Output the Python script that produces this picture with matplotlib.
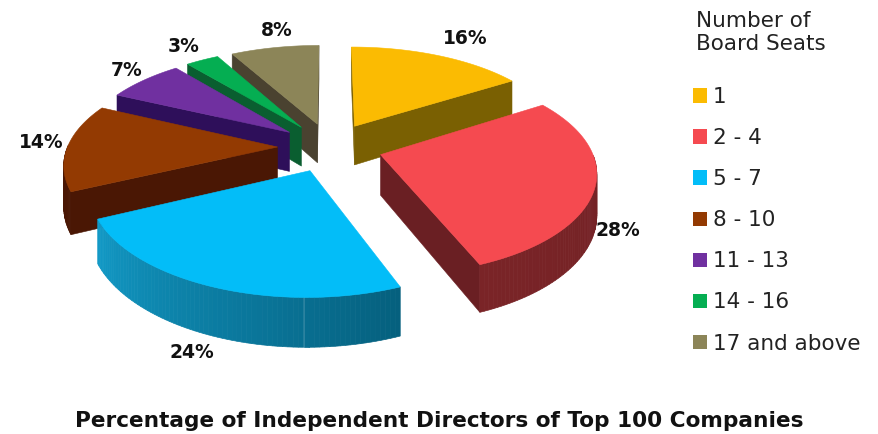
import numpy as np
import matplotlib
matplotlib.use("Agg")
import matplotlib.pyplot as plt
from matplotlib.patches import Polygon, Patch
from matplotlib.colors import to_rgb

categories = ["1", "2 - 4", "5 - 7", "8 - 10", "11 - 13", "14 - 16", "17 and above"]
values = [16, 28, 24, 14, 7, 3, 8]
top_colors = ["#FBBB02", "#F54A50", "#03BDF8", "#933A02", "#7030A0", "#05AE52", "#8C8558"]
side_start = ["#7A6002", "#6F2024", "#05607E", "#4A1704", "#2E0F5A", "#0A5E30", "#4A4230"]
side_end = ["#7A6002", "#7A2427", "#1299C6", "#4A1704", "#2E0F5A", "#0A5E30", "#4A4230"]
cut_colors = ["#7A6002", "#6A1F23", "#05607E", "#4A1704", "#2E0F5A", "#0A5E30", "#4A4230"]
label_px = [(465, 39), (618, 231), (192, 352), (41, 143), (127, 70), (184, 47), (277, 30)]

CX, CY, A, B, KX, KY, H, EX = 330, 147, 210, 98, 0.15, 0.16, 40, 0.25


def project(x, y, drop=0.0):
    sx = 1 / (1 + KX * y)
    sy = 1 / (1 + KY * y)
    return CX + A * x * sx, CY - B * y * sy + drop * sy


fig = plt.figure(figsize=(8.79, 4.34), dpi=100)
ax = fig.add_axes([0, 0, 1, 1])
ax.set_xlim(0, 879)
ax.set_ylim(434, 0)
ax.axis("off")

edges = np.concatenate([[0], np.cumsum(values)]) / np.sum(values) * 2 * np.pi
slices = []
for i, v in enumerate(values):
    t0, t1 = edges[i], edges[i + 1]
    mid = (t0 + t1) / 2
    ox, oy = EX * np.sin(mid), EX * np.cos(mid)
    th = np.linspace(t0, t1, max(8, int((t1 - t0) * 50)))
    slices.append((i, th, ox, oy, mid))


def cut_visible(apex, edge, inner):
    ex, ey = edge[0] - apex[0], edge[1] - apex[1]
    mx, my = inner[0] - apex[0], inner[1] - apex[1]
    return ex * (ex * my - ey * mx) < 0


def draw_slice(i, th, ox, oy):
    rx, ry = ox + np.sin(th), oy + np.cos(th)
    apex = project(ox, oy)
    apex_low = project(ox, oy, H)
    tm = th[len(th) // 2]
    inner = project(ox + np.sin(tm), oy + np.cos(tm))
    for t in (th[0], th[-1]):
        edge = project(ox + np.sin(t), oy + np.cos(t))
        edge_low = project(ox + np.sin(t), oy + np.cos(t), H)
        if cut_visible(apex, edge, inner):
            ax.add_patch(Polygon([apex, edge, edge_low, apex_low],
                                 closed=True, fc=cut_colors[i], ec=cut_colors[i], lw=0.4))
    start, end = np.array(to_rgb(side_start[i])), np.array(to_rgb(side_end[i]))
    for j in range(len(th) - 1):
        if np.cos(th[j]) > 0.0:
            continue
        f = j / (len(th) - 2)
        c = start * (1 - f) + end * f
        pts = [project(rx[j], ry[j]), project(rx[j + 1], ry[j + 1]),
               project(rx[j + 1], ry[j + 1], H), project(rx[j], ry[j], H)]
        ax.add_patch(Polygon(pts, closed=True, fc=c, ec=c, lw=0.5))
    tx, ty = project(np.r_[ox, rx], np.r_[oy, ry])
    ax.add_patch(Polygon(np.c_[tx, ty], closed=True, fc=top_colors[i], ec=top_colors[i], lw=0.4))


for idx in [6, 5, 4, 0, 3, 1, 2]:
    i, th, ox, oy, mid = slices[idx]
    draw_slice(i, th, ox, oy)

for v, (x, y) in zip(values, label_px):
    ax.text(x, y, f"{v}%", ha="center", va="center", fontsize=13.5, fontweight="bold",
            color="#111111", family="DejaVu Sans")

ax.text(696, 32.5, "Number of\nBoard Seats", ha="left", va="center", fontsize=15.5,
        color="#222222", family="DejaVu Sans", linespacing=1.2)
handles = [Patch(fc=c, ec="none") for c in top_colors]
leg = ax.legend(handles, categories, loc="upper left", bbox_to_anchor=(693 / 879, 1 - 87 / 434),
                frameon=False, fontsize=15.5, labelspacing=0.98, handlelength=0.65, handleheight=0.65,
                handletextpad=0.28, borderpad=0, borderaxespad=0, labelcolor="#222222")

ax.text(439, 421, "Percentage of Independent Directors of Top 100 Companies", ha="center", va="center",
        fontsize=15.6, fontweight="bold", color="#111111", family="DejaVu Sans")

fig.savefig("out.png", dpi=100)
